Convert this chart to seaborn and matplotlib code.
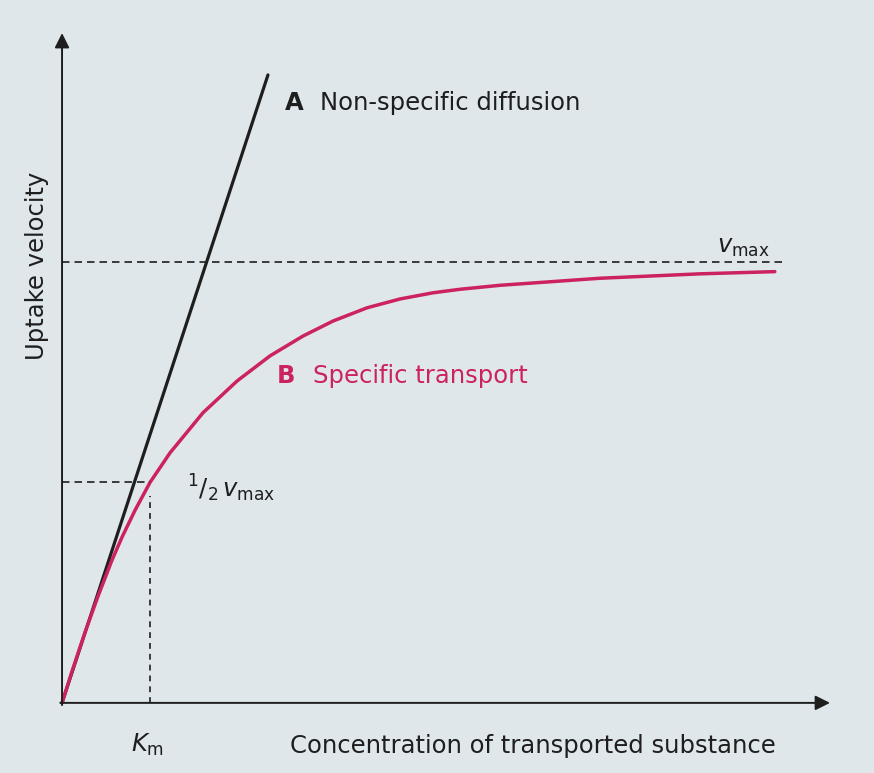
# Uptake velocity vs concentration: non-specific diffusion vs specific transport

import numpy as np
import pandas as pd
import matplotlib
matplotlib.use('Agg')
import matplotlib.pyplot as plt
import seaborn as sns

# values (Km = 1, vmax = 1)

conc_b = [0.0, 0.114, 0.261, 0.409, 0.568, 0.682, 0.830, 1.0, 1.227, 1.602, 1.989, 2.364,
          2.739, 3.080, 3.466, 3.841, 4.216, 4.523, 4.977, 6.114, 7.25, 8.10]
vel_b = [0.0, 0.072, 0.160, 0.242, 0.324, 0.376, 0.437, 0.5, 0.567, 0.658, 0.730, 0.787,
         0.832, 0.866, 0.896, 0.916, 0.930, 0.938, 0.947, 0.963, 0.973, 0.978]

conc_a = [0.0, 2.34]
vel_a = [0.0, 1.424]

km = 1.0
vmax = 1.0
vmax_line_end = 8.24
x_end = 8.727
y_end = 1.519

bg = '#dfe7eb'
ink = '#1e1e1e'
red = '#cc2360'
fs = 17.5

sns.set_theme(style='white')
plt.rcParams['font.family'] = ['DejaVu Sans']
plt.rcParams['mathtext.fontset'] = 'dejavusans'

df_a = pd.DataFrame({'conc': conc_a, 'vel': vel_a})
df_b = pd.DataFrame({'conc': conc_b, 'vel': vel_b})

fig = plt.figure(figsize=(8.74, 7.73), dpi=100, facecolor=bg)
ax = fig.add_axes([0, 0, 1, 1])
ax.set_facecolor(bg)

sns.lineplot(data=df_a, x='conc', y='vel', color=ink, lw=2.3, ax=ax)
sns.lineplot(data=df_b, x='conc', y='vel', color=red, lw=2.5, ax=ax,
             solid_joinstyle='round', solid_capstyle='round')

# dashed guides
dash = (0, (4.5, 3))
ax.plot([0, vmax_line_end], [vmax, vmax], color=ink, lw=1.2, ls=dash)
ax.plot([0, km], [vmax / 2, vmax / 2], color=ink, lw=1.2, ls=dash)
ax.plot([km, km], [0, vmax / 2 - 0.03], color=ink, lw=1.2, ls=(0, (3.5, 3)))

# axes with arrow heads
ax.annotate('', xy=(x_end, 0), xytext=(-0.02, 0),
            arrowprops=dict(arrowstyle='-|>', color=ink, lw=1.4, mutation_scale=22,
                            shrinkA=0, shrinkB=0))
ax.annotate('', xy=(0, y_end), xytext=(0, -0.005),
            arrowprops=dict(arrowstyle='-|>', color=ink, lw=1.4, mutation_scale=22,
                            shrinkA=0, shrinkB=0))

# labels
ax.text(2.534, 1.345, 'A', fontsize=fs, fontweight='bold', color=ink, va='baseline')
ax.text(2.93, 1.345, 'Non-specific diffusion', fontsize=fs, color=ink, va='baseline')
ax.text(2.443, 0.726, 'B', fontsize=fs, fontweight='bold', color=red, va='baseline')
ax.text(2.85, 0.726, 'Specific transport', fontsize=fs, color=red, va='baseline')
ax.text(7.44, 1.020, r'$v_{\mathrm{max}}$', fontsize=fs, color=ink, va='baseline')
ax.text(1.42, 0.467, r'$^{1}/_{2}\,v_{\mathrm{max}}$', fontsize=fs, color=ink, va='baseline')
ax.text(0.784, -0.111, r'$K_{\mathrm{m}}$', fontsize=fs, color=ink, va='baseline')
ax.text(2.59, -0.113, 'Concentration of transported substance', fontsize=fs, color=ink,
        va='baseline')
ax.text(-0.284, 0.991, 'Uptake velocity', fontsize=fs, color=ink, va='center', ha='center',
        rotation=90)

ax.set_xlim(-0.705, 9.227)
ax.set_ylim(-0.159, 1.594)
ax.set_xlabel('')
ax.set_ylabel('')
ax.set_xticks([])
ax.set_yticks([])
for s in ax.spines.values():
    s.set_visible(False)

fig.savefig('out.png', dpi=100, facecolor=bg)
